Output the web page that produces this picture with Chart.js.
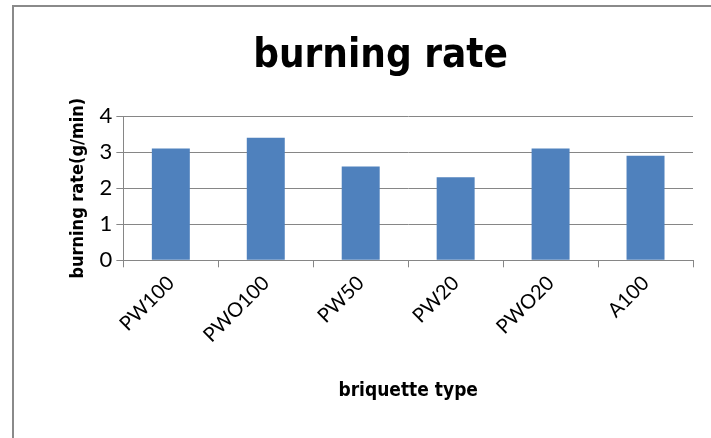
<!DOCTYPE html>
<html>
<head>
<meta charset="utf-8">
<script src="https://cdn.jsdelivr.net/npm/chart.js@4"></script>
<style>
  html, body { margin: 0; padding: 0; background: #fff; }
  #wrap { position: relative; width: 711px; height: 438px; overflow: hidden; }
  #frame { position: absolute; left: 12px; top: 5px; width: 800px; height: 500px;
           border-left: 2px solid #8a8a8a; border-top: 2px solid #8a8a8a; }
  canvas { position: absolute; left: 0; top: 0; }
</style>
</head>
<body>
<div id="wrap">
  <div id="frame"></div>
  <canvas id="burnChart" width="711" height="438"></canvas>
</div>
<script>
// briquette types and measured burning rates (g/min)
const categories = ['PW100', 'PWO100', 'PW50', 'PW20', 'PWO20', 'A100'];
const burningRate = [3.1, 3.4, 2.6, 2.3, 3.1, 2.9];
const yTicks = [0, 1, 2, 3, 4];

const narrowBold = "'Liberation Sans Narrow', 'DejaVu Sans Condensed', Roboto, sans-serif";

document.addEventListener('DOMContentLoaded', function() {
    const ctx = document.getElementById('burnChart').getContext('2d');
    const gridColor = '#868686';

    new Chart(ctx, {
        type: 'bar',
        data: {
            labels: categories,
            datasets: [{
                label: 'burning rate',
                data: burningRate,
                backgroundColor: '#4f81bd',
                borderWidth: 0,
                categoryPercentage: 1.0,
                barPercentage: 0.4
            }]
        },
        options: {
            responsive: false,
            animation: false,
            layout: {
                padding: { left: 68, right: 18, top: 33, bottom: 36 }
            },
            plugins: {
                legend: { display: false },
                tooltip: { enabled: false },
                title: {
                    display: true,
                    text: 'burning rate',
                    color: '#000',
                    font: { family: narrowBold, size: 40, weight: 'bold' },
                    padding: { top: 0, bottom: 35 }
                }
            },
            scales: {
                x: {
                    grid: {
                        drawOnChartArea: false,
                        drawTicks: true,
                        tickLength: 7,
                        color: gridColor
                    },
                    border: { display: true, color: gridColor, width: 1 },
                    ticks: {
                        color: '#000',
                        maxRotation: 45,
                        minRotation: 45,
                        padding: 4,
                        font: { family: 'Lato', size: 20 }
                    },
                    title: {
                        display: true,
                        text: 'briquette type',
                        color: '#000',
                        font: { family: narrowBold, size: 19, weight: 'bold' },
                        padding: { top: 28, bottom: 0 }
                    }
                },
                y: {
                    min: 0,
                    max: 4,
                    afterBuildTicks: function(axis) {
                        axis.ticks = yTicks.map(v => ({ value: v }));
                    },
                    grid: {
                        color: gridColor,
                        drawTicks: true,
                        tickLength: 7
                    },
                    border: { display: true, color: gridColor, width: 1 },
                    ticks: {
                        color: '#000',
                        padding: 4,
                        font: { family: 'Lato', size: 22 }
                    },
                    title: {
                        display: true,
                        text: 'burning rate(g/min)',
                        color: '#000',
                        font: { family: narrowBold, size: 18, weight: 'bold' },
                        padding: { top: 0, bottom: 6 }
                    }
                }
            }
        }
    });
});
</script>
</body>
</html>
